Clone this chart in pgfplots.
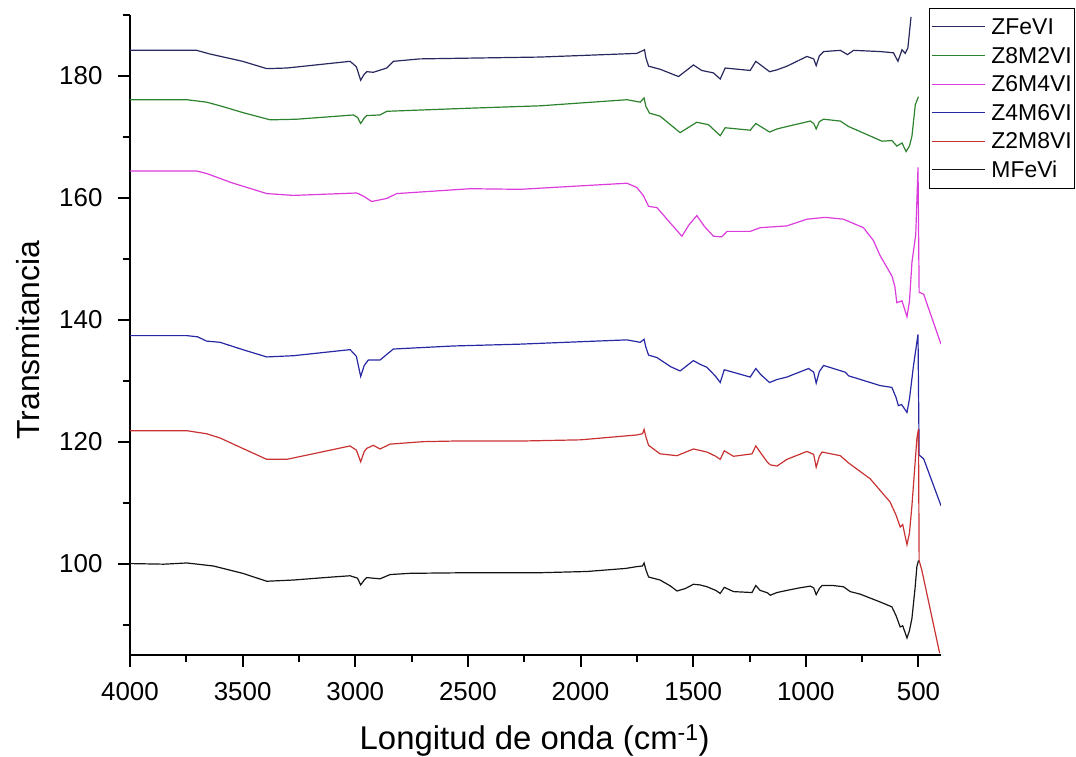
\documentclass[border=0pt]{standalone}
\usepackage{fontspec}
\setmainfont{Liberation Sans}
\usepackage{pgfplots}
\pgfplotsset{compat=1.18}
\definecolor{cZFe}{RGB}{40,40,95}
\definecolor{cZ8}{RGB}{45,130,45}
\definecolor{cZ6}{RGB}{220,60,220}
\definecolor{cZ4}{RGB}{40,40,165}
\definecolor{cZ2}{RGB}{200,50,50}
\definecolor{cMF}{RGB}{20,20,20}
\begin{document}
\begin{tikzpicture}
\begin{axis}[
  scale only axis, width=811bp, height=640bp,
  x dir=reverse, xmin=400, xmax=4000, ymin=85, ymax=190,
  axis x line*=bottom, axis y line*=left,
  axis line style={line width=2.4bp, black},
  xtick={500,1000,...,4000}, ytick={100,120,...,180},
  minor xtick={750,1250,...,3750}, minor ytick={90,110,...,190},
  tick align=outside, major tick length=12bp, minor tick length=7bp,
  every tick/.style={black, line width=2bp},
  tick label style={font=\fontsize{26}{26}\selectfont},
  xticklabel shift=12bp, yticklabel shift=12bp,
  /pgf/number format/assume math mode=true,
  /pgf/number format/1000 sep={},
  xlabel={Longitud de onda (cm\textsuperscript{-1})},
  ylabel={Transmitancia},
  every axis x label/.style={at={(axis description cs:0.499,0)}, anchor=base, yshift=-94bp, font=\fontsize{33}{33}\selectfont},
  every axis y label/.style={at={(axis description cs:0,0.492)}, xshift=-102bp, rotate=90, anchor=center, font=\fontsize{32}{32}\selectfont},
  legend style={at={(axis description cs:0.9852,1.011)}, anchor=north west, draw=black, line width=1bp,
    font=\fontsize{23}{23}\selectfont, row sep=7.6bp, inner xsep=2bp, inner ysep=8bp,
    nodes={inner sep=1bp, text height=17bp, text depth=2bp}},
  legend cell align=left,
  legend image code/.code={\draw[#1, line width=1bp] (0bp,0bp) -- (53bp,0bp);},
  every axis plot/.append style={line width=1.2bp},
]
\coordinate (O) at (rel axis cs:0,0);
\addplot[cZFe] coordinates {(4000,184.2) (3704,184.2) (3645,183.6) (3500,182.4) (3393,181.2) (3304,181.3) (3023,182.4) (2995,181.5) (2976,179.3) (2960,180.3) (2949,180.7) (2920,180.6) (2860,181.3) (2831,182.4) (2712,182.8) (2179,183.1) (1750,183.7) (1716,184.3) (1710,183.0) (1698,181.6) (1647,181.1) (1565,179.9) (1499,181.8) (1462,180.9) (1410,180.5) (1380,179.5) (1358,181.3) (1247,180.9) (1222,182.4) (1161,180.7) (1128,181.0) (1084,181.6) (995,183.2) (965,182.8) (954,181.7) (940,183.3) (921,184.0) (847,184.2) (815,183.5) (788,184.2) (670,184.0) (611,183.8) (591,182.4) (573,184.3) (559,183.7) (547,184.6) (533,189.7)};
\addlegendentry{\hspace{5bp}ZFeVI}
\addplot[cZ8] coordinates {(4000,176.1) (3748,176.1) (3660,175.7) (3600,175.1) (3500,174.0) (3378,172.8) (3260,172.9) (3008,173.6) (2990,173.2) (2976,172.2) (2960,173.1) (2949,173.5) (2890,173.6) (2860,174.2) (2500,174.7) (2179,175.1) (1794,176.1) (1735,175.7) (1718,176.4) (1710,175.0) (1694,173.9) (1647,173.4) (1558,170.7) (1484,172.4) (1432,172.0) (1380,170.2) (1358,171.5) (1247,171.1) (1222,172.2) (1161,170.8) (1128,171.3) (1084,171.7) (980,172.6) (965,172.2) (954,171.3) (940,172.5) (921,172.9) (847,172.6) (810,171.7) (662,169.3) (618,169.4) (596,168.5) (573,169.0) (555,167.6) (540,168.5) (529,170.1) (514,175.3) (500,176.6)};
\addlegendentry{\hspace{5bp}Z8M2VI}
\addplot[cZ6] coordinates {(4000,164.4) (3704,164.4) (3660,164.0) (3550,162.5) (3393,160.7) (3275,160.4) (2993,160.8) (2960,160.2) (2927,159.4) (2860,159.9) (2816,160.7) (2490,161.5) (2268,161.4) (1794,162.4) (1750,161.7) (1720,160.3) (1698,158.6) (1661,158.4) (1600,155.8) (1550,153.7) (1520,155.5) (1484,157.1) (1450,155.3) (1410,153.7) (1373,153.6) (1350,154.5) (1247,154.5) (1203,155.1) (1084,155.4) (995,156.5) (914,156.8) (833,156.5) (744,155.1) (700,153.0) (670,150.5) (618,147.2) (605,145.5) (596,142.8) (573,143.1) (551,140.5) (540,143.0) (529,149.4) (512,154.0) (502,165.0) (497,144.5) (477,144.2) (400,136.0)};
\addlegendentry{\hspace{5bp}Z6M4VI}
\addplot[cZ4] coordinates {(4000,137.4) (3748,137.4) (3700,137.2) (3660,136.5) (3600,136.3) (3500,135.1) (3393,133.9) (3275,134.1) (3023,135.1) (2995,134.0) (2976,130.7) (2960,132.5) (2942,133.4) (2890,133.4) (2831,135.2) (2564,135.7) (2268,136.0) (1794,136.7) (1735,136.3) (1718,136.8) (1710,135.5) (1698,134.2) (1661,133.8) (1600,132.3) (1558,131.6) (1499,133.3) (1470,132.7) (1439,132.2) (1400,130.7) (1380,129.7) (1362,131.8) (1247,130.6) (1222,132.0) (1200,131.0) (1161,129.7) (1128,130.2) (1084,130.6) (988,132.0) (965,131.4) (954,129.6) (940,131.5) (921,132.5) (825,131.4) (810,130.8) (670,129.2) (618,128.9) (600,127.3) (589,125.9) (575,126.1) (551,124.8) (540,127.0) (522,132.5) (502,137.6) (497,117.8) (477,117.2) (400,109.5)};
\addlegendentry{\hspace{5bp}Z4M6VI}
\addplot[cZ2] coordinates {(4000,121.8) (3748,121.8) (3660,121.3) (3600,120.6) (3500,118.9) (3393,117.1) (3304,117.1) (3150,118.3) (3023,119.3) (2995,118.6) (2976,116.7) (2960,118.4) (2949,118.9) (2920,119.4) (2890,118.8) (2845,119.6) (2700,120.0) (2564,120.1) (2268,120.1) (2000,120.3) (1750,121.1) (1725,121.3) (1718,122.0) (1710,120.8) (1698,119.4) (1647,118.0) (1572,117.7) (1499,118.8) (1439,118.3) (1400,117.6) (1380,117.1) (1362,118.5) (1321,117.6) (1239,118.0) (1222,119.3) (1203,118.3) (1170,116.6) (1158,116.2) (1128,116.0) (1084,117.1) (995,118.4) (965,117.9) (954,115.8) (940,117.6) (928,118.3) (847,117.7) (810,116.5) (714,113.9) (626,110.1) (600,108.0) (581,106.0) (570,106.4) (551,103.1) (540,105.0) (529,109.5) (507,120.5) (500,122.1) (497,100.5) (485,98.9) (406,85.3)};
\addlegendentry{\hspace{5bp}Z2M8VI}
\addplot[cMF] coordinates {(4000,100.0) (3850,99.9) (3748,100.1) (3700,99.9) (3630,99.6) (3500,98.4) (3393,97.1) (3275,97.3) (3100,97.8) (3023,98.0) (2990,97.6) (2976,96.5) (2960,97.3) (2949,97.7) (2920,97.6) (2890,97.5) (2845,98.2) (2757,98.4) (2500,98.5) (2179,98.5) (1972,98.7) (1800,99.2) (1750,99.5) (1725,99.6) (1718,100.1) (1710,99.0) (1698,97.8) (1647,97.3) (1600,96.3) (1572,95.5) (1535,95.9) (1499,96.6) (1470,96.5) (1439,96.2) (1400,95.6) (1380,95.1) (1362,96.1) (1321,95.4) (1239,95.25) (1222,96.4) (1203,95.6) (1170,95.2) (1158,94.8) (1128,95.25) (1084,95.6) (1030,96.0) (980,96.3) (965,96.0) (954,94.9) (940,95.9) (928,96.4) (880,96.4) (833,96.2) (803,95.4) (760,95.0) (670,93.7) (618,92.9) (600,91.5) (581,89.6) (570,89.8) (551,87.8) (540,89.0) (529,91.0) (515,96.0) (507,99.5) (500,100.5)};
\addlegendentry{\hspace{5bp}MFeVi}
\end{axis}
\pgfresetboundingbox
\path[use as bounding box] ([shift={(-130bp,-102bp)}]O) rectangle ([shift={(946bp,655bp)}]O);
\end{tikzpicture}
\end{document}
